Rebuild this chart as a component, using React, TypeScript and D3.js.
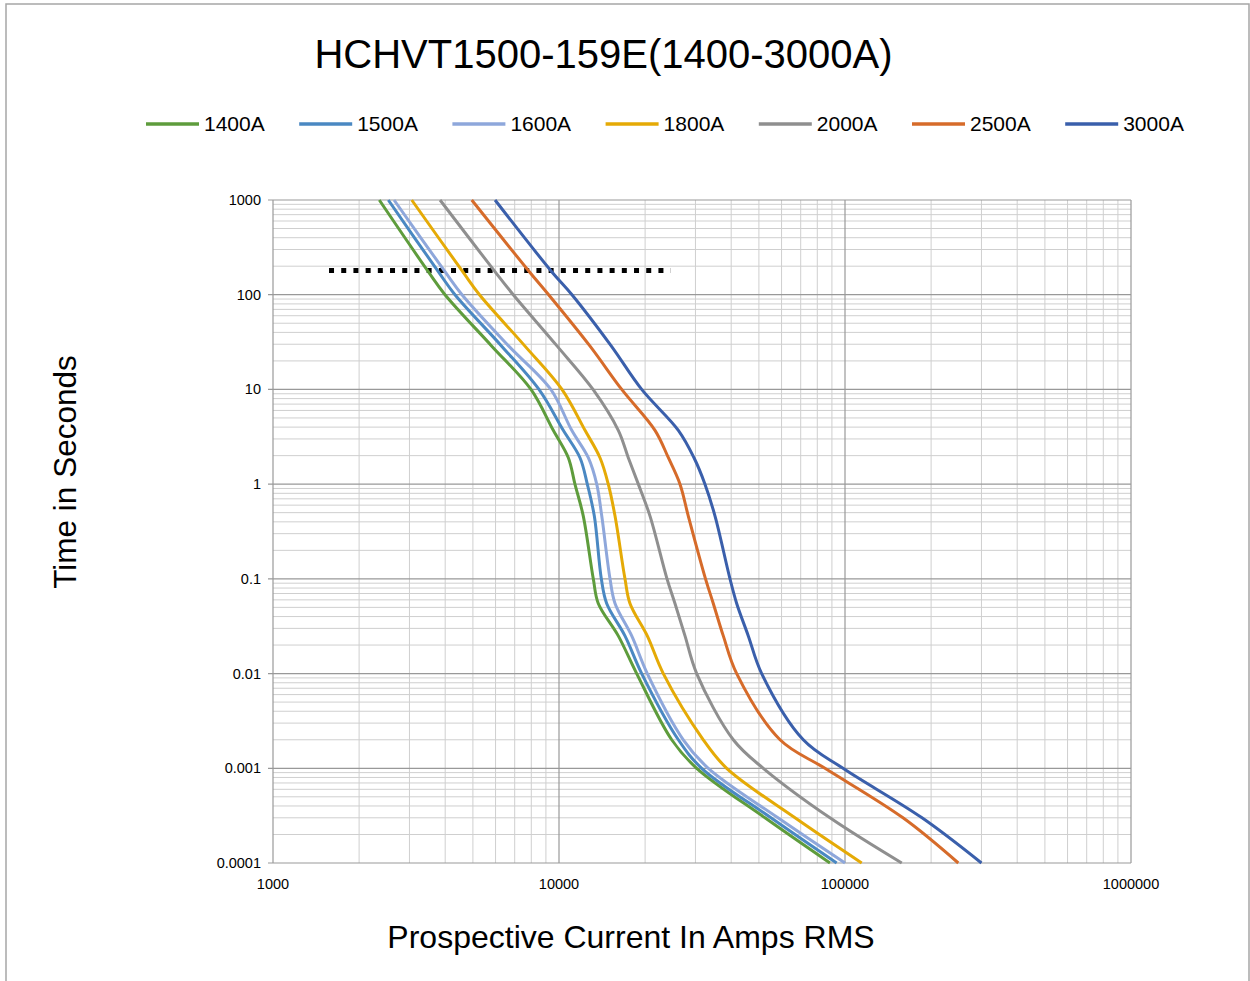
import React from "react";
import * as d3 from "d3";

const TITLE = "HCHVT1500-159E(1400-3000A)";
const X_TITLE = "Prospective Current In Amps RMS";
const Y_TITLE = "Time in Seconds";

const xTickValues = [1000, 10000, 100000, 1000000];
const xTickLabels = ["1000", "10000", "100000", "1000000"];
const yTickValues = [1000, 100, 10, 1, 0.1, 0.01, 0.001, 0.0001];
const yTickLabels = ["1000", "100", "10", "1", "0.1", "0.01", "0.001", "0.0001"];

const seriesNames = ["1400A", "1500A", "1600A", "1800A", "2000A", "2500A", "3000A"];
const seriesColors = ["#5e9c3c", "#4a88c2", "#8ea7db", "#e5aa06", "#8f8f8f", "#d66b2a", "#3a5fab"];

// time (s) for each sample point
const times = [1000, 175, 100, 29, 10, 3.7, 1.9, 1, 0.46, 0.1, 0.055, 0.025, 0.01, 0.002, 0.001, 0.0003, 0.0001];

// prospective current (A) at each time
const s1400 = [2353, 3491, 3994, 5800, 7980, 9550, 10780, 11370, 12160, 13180, 13720, 16120, 18690, 24780, 30300, 52500, 88600];
const s1500 = [2530, 3784, 4328, 6280, 8510, 10350, 11840, 12560, 13290, 14060, 14680, 17010, 19460, 26140, 31550, 55100, 93500];
const s1600 = [2650, 3994, 4580, 6650, 9360, 11080, 12660, 13550, 14110, 15080, 15700, 17960, 20360, 27200, 33270, 58300, 100000];
const s1800 = [3055, 4606, 5272, 7577, 10240, 12330, 13910, 14870, 15700, 17010, 17710, 20360, 23160, 31950, 38580, 66870, 114400];
const s2000 = [3837, 5973, 6919, 9820, 13150, 16120, 17470, 18940, 20810, 23860, 25440, 27580, 30300, 40680, 51800, 88600, 157900];
const s2500 = [4953, 7875, 9200, 12800, 16570, 21660, 24120, 26490, 28320, 32530, 34630, 37540, 41810, 59270, 85100, 159500, 249000];
const s3000 = [5975, 9430, 11100, 15200, 19460, 26140, 29650, 32390, 35120, 39620, 41810, 45910, 51130, 71480, 98400, 185900, 300000];

const seriesValues = [s1400, s1500, s1600, s1800, s2000, s2500, s3000];

// dotted reference line
const refLineCurrents = [1570, 24600];
const refLineTime = 180;

const W = 1250;
const H = 981;
const PLOT = { left: 273, right: 1131, top: 200, bottom: 863 };
const FONT = "'Liberation Sans', Arial, sans-serif";

export default function App() {
  const x = d3.scaleLog().domain([1000, 1000000]).range([PLOT.left, PLOT.right]);
  const y = d3.scaleLog().domain([0.0001, 1000]).range([PLOT.bottom, PLOT.top]);

  const minorX: number[] = [];
  for (let d = 1000; d < 1000000; d *= 10) for (let k = 2; k <= 9; k++) minorX.push(d * k);
  const minorY: number[] = [];
  for (let d = 0.0001; d < 999; d *= 10) for (let k = 2; k <= 9; k++) minorY.push(d * k);

  const line = d3
    .line<[number, number]>()
    .x((p) => x(p[0]))
    .y((p) => y(p[1]))
    .curve(d3.curveCatmullRom.alpha(0.5));

  const legendStart = 146;
  const legendStep = 153.2;

  return (
    <svg width={W} height={H} style={{ position: "absolute", left: 0, top: 0, background: "#fff" }} fontFamily={FONT}>
      <rect x={0} y={0} width={W} height={H} fill="#fff" />
      <rect x={6} y={4} width={1243} height={1100} fill="none" stroke="#a6a6a6" strokeWidth={1.5} />

      <text x={603.5} y={68} textAnchor="middle" fontSize={40} fill="#000">{TITLE}</text>

      {seriesNames.map((n, i) => {
        const lx = legendStart + i * legendStep;
        return (
          <g key={n}>
            <line x1={lx} x2={lx + 53} y1={124} y2={124} stroke={seriesColors[i]} strokeWidth={3.5} />
            <text x={lx + 58} y={131} fontSize={21} fill="#000">{n}</text>
          </g>
        );
      })}

      {/* minor grid */}
      {minorX.map((v) => (
        <line key={"mx" + v} x1={x(v)} x2={x(v)} y1={PLOT.top} y2={PLOT.bottom} stroke="#cfcfcf" strokeWidth={1} />
      ))}
      {minorY.map((v, i) => (
        <line key={"my" + i} x1={PLOT.left} x2={PLOT.right} y1={y(v)} y2={y(v)} stroke="#cfcfcf" strokeWidth={1} />
      ))}
      {/* major grid */}
      {xTickValues.map((v) => (
        <line key={"Mx" + v} x1={x(v)} x2={x(v)} y1={PLOT.top} y2={PLOT.bottom} stroke="#999" strokeWidth={1.2} />
      ))}
      {yTickValues.map((v) => (
        <line key={"My" + v} x1={PLOT.left - 5} x2={PLOT.right} y1={y(v)} y2={y(v)} stroke="#999" strokeWidth={1.2} />
      ))}

      {yTickValues.map((v, i) => (
        <text key={"yl" + v} x={261} y={y(v) + 5} textAnchor="end" fontSize={14.5} fill="#000">{yTickLabels[i]}</text>
      ))}
      {xTickValues.map((v, i) => (
        <text key={"xl" + v} x={x(v)} y={889} textAnchor="middle" fontSize={14.5} fill="#000">{xTickLabels[i]}</text>
      ))}

      <line
        x1={x(refLineCurrents[0])}
        x2={x(refLineCurrents[1])}
        y1={y(refLineTime)}
        y2={y(refLineTime)}
        stroke="#000"
        strokeWidth={5}
        strokeDasharray="5 7.2"
      />

      {seriesValues.map((vals, i) => {
        const pts = vals.map((c, j) => [c, times[j]] as [number, number]);
        return <path key={seriesNames[i]} d={line(pts) || ""} fill="none" stroke={seriesColors[i]} strokeWidth={3} strokeLinejoin="round" />;
      })}

      <text x={631} y={948} textAnchor="middle" fontSize={32} fill="#000">{X_TITLE}</text>
      <text transform={`translate(76,472) rotate(-90)`} textAnchor="middle" fontSize={31.5} fill="#000">{Y_TITLE}</text>
    </svg>
  );
}
